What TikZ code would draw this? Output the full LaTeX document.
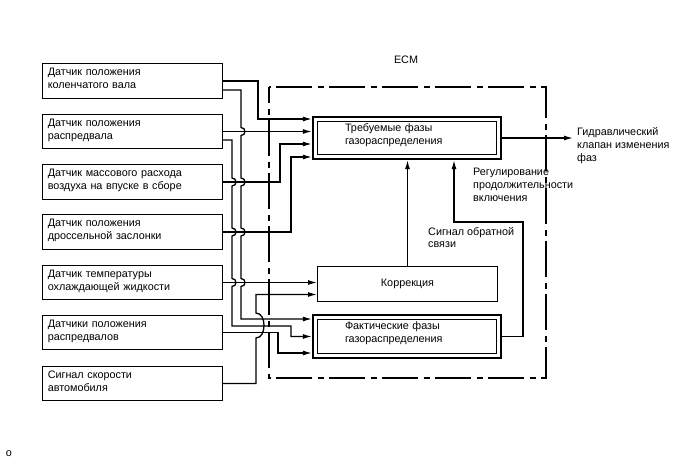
\documentclass[tikz,border=0pt]{standalone}
\usepackage{fontspec}
\setmainfont{Liberation Sans}
\usetikzlibrary{calc}
\usetikzlibrary{arrows.meta}

\begin{document}
\begin{tikzpicture}[x=1pt,y=-1pt,font=\fontsize{10.8}{12.8}\selectfont,
		sensor/.style={draw,line width=1.3pt,minimum width=179.5pt,minimum height=34.5pt,
			text width=169.5pt,inner xsep=5pt,align=left,text depth=18pt},
		phase/.style={draw,double,double distance=2.8pt,line width=1.4pt,minimum width=183.6pt,
			minimum height=37.7pt,text width=124pt,align=left,outer sep=3.3pt},
		corrbox/.style={draw,line width=1.3pt,minimum width=179.7pt,minimum height=34.7pt},
		note/.style={align=left,inner sep=1pt},
		wire/.style={line width=1.3pt},
		arr/.style={wire,-{Latex[length=9pt,width=5pt]}},
		ecmframe/.style={line width=1.3pt,dash pattern=on 36pt off 5.5pt on 6pt off 5.5pt,dash phase=20pt},
		hop/.style={to path={.. controls ($(\tikztostart)+(#1,0)$) and ($(\tikztotarget)+(#1,0)$) .. (\tikztotarget)}},
		hop/.default=5.3]
	\useasboundingbox (0,0) rectangle (688,463);
	
	% ---- ECM frame ----
	\draw[ecmframe] (269,87) rectangle (546,378);
	\node (ecm) at (406,60) {ECM};
	
	% ---- Sensors (left column) ----
	\node[sensor] (ckp) at (132.5,81) {Датчик положения\\коленчатого вала};
	\node[sensor] (cmp) at (132.5,131.5) {Датчик положения\\распредвала};
	\node[sensor] (maf) at (132.5,182) {Датчик массового расхода\\воздуха на впуске в сборе};
	\node[sensor] (tps) at (132.5,232) {Датчик положения\\дроссельной заслонки};
	\node[sensor] (ect) at (132.5,282.5) {Датчик температуры\\охлаждающей жидкости};
	\node[sensor] (vvt) at (132.5,332.5) {Датчики положения\\распредвалов};
	\node[sensor] (spd) at (132.5,383.5) {Сигнал скорости\\автомобиля};
	
	% ---- ECM blocks ----
	\node[phase,text depth=20pt] (want) at (407,138) {Требуемые фазы\\газораспределения};
	\node[corrbox] (corr) at (407.5,284) {Коррекция};
	\node[phase,minimum height=38.7pt,text depth=22pt] (act) at (407,336.5) {Фактические фазы\\газораспределения};
	
	% ---- Labels ----
	\node[note,anchor=west] (ocv) at (576,145.5) {Гидравлический\\клапан изменения\\фаз};
	\node[note,anchor=west] (duty) at (472,185) {Регулирование\\продолжительности\\включения};
	\node[note,anchor=west] (fb) at (427,237.5) {Сигнал обратной\\связи};
	\node (fig) at (9,454) {o};
	
	% ---- Inputs to "Требуемые фазы" ----
	\draw[arr] (ckp.east) -| (258,119) -- ([yshift=19pt]want.west);
	\draw[arr] (cmp.east) -- (cmp.east -| want.west);
	\draw[arr] (maf.east) -| (280,144) -- ([yshift=-6pt]want.west);
	\draw[arr] (tps.east) -| (291,157) -- ([yshift=-19pt]want.west);
	
	% ---- Long runs down to "Фактические фазы" (hops over crossings) ----
	\draw[arr] ([yshift=-9pt]ckp.east) -- (241,90) -- (241,127.5) to[hop] (241,135.5)
		-- (241,178) to[hop] (241,186) -- (241,228) to[hop] (241,236)
		-- (241,278.5) to[hop] (241,286.5) -- (241,319) -- ([yshift=17.5pt]act.west);
	\draw[arr] ([yshift=-8.5pt]cmp.east) -- (232,140) -- (232,178) to[hop] (232,186)
		-- (232,228) to[hop] (232,236) -- (232,278.5) to[hop] (232,286.5)
		-- (232,326) -| (291,336.5) -- (act.west);
	\draw[arr] (vvt.east) -| (278,353) -- ([yshift=-16.5pt]act.west);
	
	% ---- Inputs to "Коррекция" ----
	\draw[arr] (ect.east) -- (ect.east -| corr.west);
	\draw[arr] (spd.east) -| (256,338) to[hop=10.7] (256,313) -- (256,294.5) -- ([yshift=-10.5pt]corr.west);
	
	% ---- Inside ECM ----
	\draw[arr] (corr.north) -- (corr.north |- want.south);
	\draw[arr] (act.east) -| (523,222) -| ([xshift=47pt]want.south);
	\draw[arr,shorten >=3pt] (want.east) -- (want.east -| ocv.west);
	
\end{tikzpicture}
\end{document}
